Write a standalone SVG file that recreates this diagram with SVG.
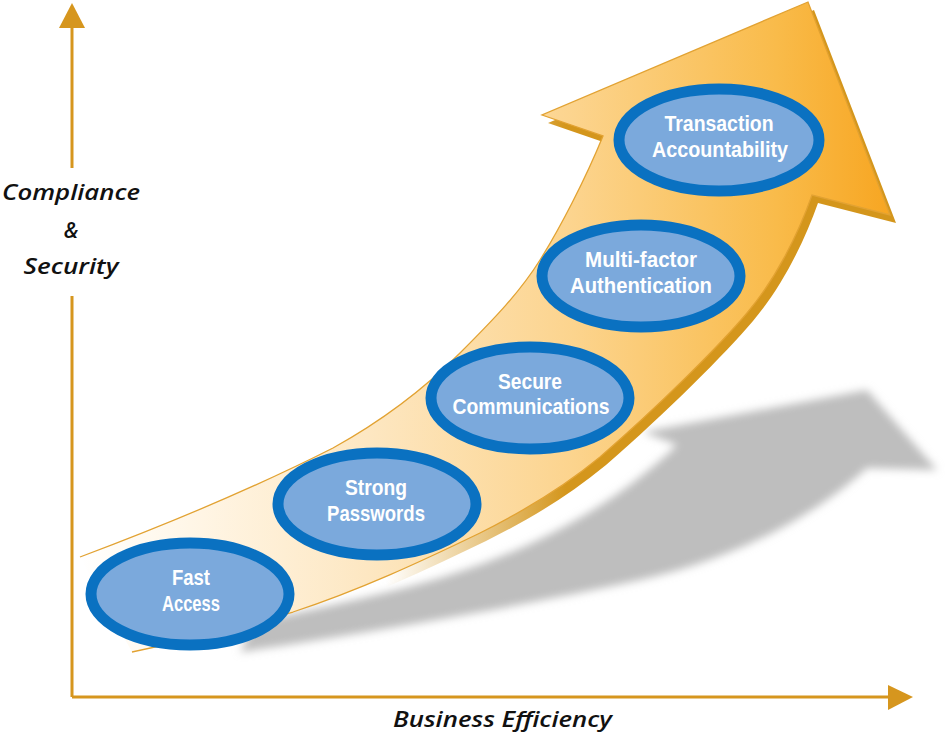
<svg xmlns="http://www.w3.org/2000/svg" width="951" height="735" viewBox="0 0 951 735">
  <defs>
    <linearGradient id="bandGrad" gradientUnits="userSpaceOnUse" x1="80" y1="0" x2="900" y2="0">
      <stop offset="0" stop-color="#ffffff"/>
      <stop offset="0.15" stop-color="#fff5e4"/>
      <stop offset="0.35" stop-color="#fde7c2"/>
      <stop offset="0.6" stop-color="#fcd48e"/>
      <stop offset="0.85" stop-color="#f9bb4a"/>
      <stop offset="1" stop-color="#f7a41e"/>
    </linearGradient>
    <linearGradient id="darkGrad" gradientUnits="userSpaceOnUse" x1="380" y1="0" x2="560" y2="0">
      <stop offset="0" stop-color="#d4961c" stop-opacity="0"/>
      <stop offset="1" stop-color="#d4961c" stop-opacity="1"/>
    </linearGradient>
    <filter id="blur" x="-10%" y="-20%" width="120%" height="140%">
      <feGaussianBlur stdDeviation="4"/>
    </filter>
    <path id="arrowShape" d="M80,557 C160,527 250,490 333,448 C380,422 425,388 460,353 C495,318 520,292 540,260 C560,228 585,180 603,136 L542,115 L808,2 L890,215 L812,195 C798,235 775,280 747,313 C720,345 660,405 600,457 C560,490 520,513 480,533 C420,562 360,590 293,612 C230,630 180,642 132,652 Z"/>
    <style>
      .axis { stroke: #d6961e; stroke-width: 3; fill: none; }
      .axhead { fill: #d6961e; }
      .axlabel { font-family: "Open Sans", "Liberation Sans", sans-serif; font-style: italic; font-weight: 600; font-size: 21px; fill: #111111; }
      .oval { fill: #7ba9dc; stroke: #0a71c1; stroke-width: 11; }
      .lbl { font-family: "Liberation Sans", Arial, sans-serif; font-weight: 700; font-size: 22px; fill: #ffffff; text-anchor: middle; }
    </style>
  </defs>
  <rect width="951" height="735" fill="#ffffff"/>

  <g id="shadow">
    <path d="M677,445 L643,432 L867,390 L937,470 L867,468 C810,520 730,560 640,580 C540,602 400,628 240,652 L255,622 C340,604 400,590 440,578 C540,548 620,500 677,445 Z" fill="#bebebe" filter="url(#blur)"/>
  </g>

  <g id="big-arrow">
    <use href="#arrowShape" transform="translate(6,8)" fill="url(#darkGrad)"/>
    <use href="#arrowShape" fill="url(#bandGrad)"/>
    <path d="M80,557 C160,527 250,490 333,448 C380,422 425,388 460,353 C495,318 520,292 540,260 C560,228 585,180 603,136 L542,115 L808,2 L890,215 L812,195 C798,235 775,280 747,313 C720,345 660,405 600,457 C560,490 520,513 480,533 C420,562 360,590 293,612 C230,630 180,642 132,652" fill="none" stroke="#e2a232" stroke-width="1.3"/>
  </g>

  <g id="connectors">
    <line class="axis" x1="72" y1="26" x2="72" y2="168"/>
    <line class="axis" x1="72" y1="296" x2="72" y2="697"/>
    <line class="axis" x1="72" y1="697" x2="889" y2="697"/>
    <polygon class="axhead" points="72,3 59,28 85,28"/>
    <polygon class="axhead" points="913,697 888,685 888,710"/>
  </g>

  <g id="axis-y-label">
    <text class="axlabel" x="71" y="200" text-anchor="middle" textLength="138" lengthAdjust="spacingAndGlyphs">Compliance</text>
    <text class="axlabel" x="71" y="238" text-anchor="middle">&amp;</text>
    <text class="axlabel" x="71" y="274" text-anchor="middle" textLength="95" lengthAdjust="spacingAndGlyphs">Security</text>
  </g>
  <g id="axis-x-label">
    <text class="axlabel" x="393" y="727" textLength="219" lengthAdjust="spacingAndGlyphs">Business Efficiency</text>
  </g>

  <g id="node-fast-access">
    <ellipse class="oval" cx="190" cy="594" rx="99" ry="51"/>
    <text class="lbl" x="191" y="585" textLength="38" lengthAdjust="spacingAndGlyphs">Fast</text>
    <text class="lbl" x="191" y="611" textLength="58" lengthAdjust="spacingAndGlyphs">Access</text>
  </g>
  <g id="node-strong-passwords">
    <ellipse class="oval" cx="377" cy="504" rx="99" ry="51"/>
    <text class="lbl" x="376" y="495" textLength="62" lengthAdjust="spacingAndGlyphs">Strong</text>
    <text class="lbl" x="376" y="521" textLength="98" lengthAdjust="spacingAndGlyphs">Passwords</text>
  </g>
  <g id="node-secure-communications">
    <ellipse class="oval" cx="530" cy="398" rx="99" ry="51"/>
    <text class="lbl" x="530" y="389" textLength="64" lengthAdjust="spacingAndGlyphs">Secure</text>
    <text class="lbl" x="531" y="414" textLength="157" lengthAdjust="spacingAndGlyphs">Communications</text>
  </g>
  <g id="node-multi-factor">
    <ellipse class="oval" cx="641" cy="276" rx="99" ry="51"/>
    <text class="lbl" x="641" y="267" textLength="112" lengthAdjust="spacingAndGlyphs">Multi-factor</text>
    <text class="lbl" x="641" y="293" textLength="142" lengthAdjust="spacingAndGlyphs">Authentication</text>
  </g>
  <g id="node-transaction-accountability">
    <ellipse class="oval" cx="719" cy="140" rx="100" ry="51"/>
    <text class="lbl" x="719" y="131" textLength="109" lengthAdjust="spacingAndGlyphs">Transaction</text>
    <text class="lbl" x="720" y="157" textLength="136" lengthAdjust="spacingAndGlyphs">Accountability</text>
  </g>
</svg>
